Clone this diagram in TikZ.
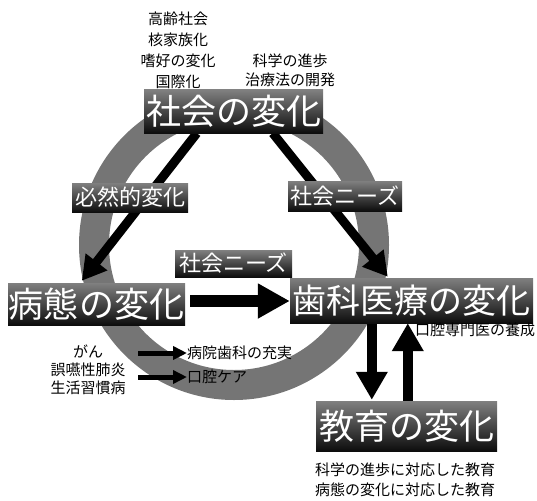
\documentclass[tikz,border=0pt]{standalone}
\usepackage{fontspec}
\setmainfont{Noto Sans CJK JP}
\usetikzlibrary{arrows.meta,calc}
\pgfdeclarelayer{bg}
\pgfsetlayers{bg,main}
\definecolor{ringgray}{gray}{0.46}
\begin{document}
\begin{tikzpicture}[x=1pt,y=-1pt,
  bigbox/.style={rectangle, top color=black!50, bottom color=black!95, text=white, inner sep=0pt, font=\fontsize{35}{35}\selectfont},
  tagbox/.style={rectangle, top color=black!50, bottom color=black!95, text=white, inner sep=0pt, font=\fontsize{22}{22}\selectfont},
  note/.style={inner sep=0pt, text=black, font=\fontsize{15}{20}\selectfont},
  bigarrow/.style={line width=9pt, -{Triangle[width=26pt,length=24pt]}},
  midarrow/.style={line width=12pt, -{Triangle[width=33pt,length=32pt]}},
  vertarrow/.style={line width=10pt, -{Triangle[width=30pt,length=28pt]}},
  smallarrow/.style={line width=5pt, -{Triangle[width=13pt,length=14pt]}}
]
\useasboundingbox (0,0) rectangle (537,500);

% main boxes
\node[bigbox, minimum width=179pt, minimum height=43pt] (soc) at (233.5,111.5) {社会の変化};
\node[bigbox, minimum width=177pt, minimum height=42pt] (pat) at (96.5,304) {病態の変化};
\node[bigbox, minimum width=243pt, minimum height=45pt, font=\fontsize{34}{34}\selectfont] (den) at (411.5,300.5) {歯科医療の変化};
\node[bigbox, minimum width=181pt, minimum height=50pt] (edu) at (406.5,426) {教育の変化};

% arrow labels
\node[tagbox, minimum width=116pt, minimum height=29pt] (l1) at (130,197.5) {必然的変化};
\node[tagbox, minimum width=114pt, minimum height=30pt] (l2) at (345,196) {社会ニーズ};
\node[tagbox, minimum width=117pt, minimum height=27pt] (l3) at (233.5,263.5) {社会ニーズ};

% notes
\node[note, align=center, font=\fontsize{15}{21}\selectfont] (top1) at (178,50) {高齢社会\\核家族化\\嗜好の変化\\国際化};
\node[note, align=center, font=\fontsize{15}{19}\selectfont] (top2) at (290,70.5) {科学の進歩\\治療法の開発};
\node[note, align=center, font=\fontsize{15}{18}\selectfont] (dis) at (88,370) {がん\\誤嚥性肺炎\\生活習慣病};
\node[note, anchor=west] (hosp) at (187,353) {病院歯科の充実};
\node[note, anchor=west] (care) at (187,377) {口腔ケア};
\node[note, anchor=west] (spec) at (415,330) {口腔専門医の養成};
\node[note, align=left, anchor=west] (edn) at (315,480) {科学の進歩に対応した教育\\病態の変化に対応した教育};

\begin{pgfonlayer}{bg}
  \draw[line width=30pt, ringgray] (234,245) circle[radius=140pt];
  \draw[bigarrow] ($(soc.south west)+(53,0)$) -- ($(pat.north west)+(74,-2)$);
  \draw[bigarrow] ($(soc.south west)+(129,0)$) -- ($(den.north west)+(98,-1)$);
  \draw[midarrow] ($(pat.east)+(5,-3)$) -- (den.west |- {$(pat.east)+(0,-3)$});
  \draw[vertarrow] ($(den.south west)+(82,0)$) -- ($(edu.north west)+(56,-1)$);
  \draw[vertarrow] ($(edu.north west)+(92,0)$) -- ($(den.south west)+(118,0)$);
\end{pgfonlayer}
\draw[smallarrow] ($(hosp.west)+(-49,0)$) -- (hosp.west);
\draw[smallarrow] ($(care.west)+(-49,0)$) -- (care.west);
\end{tikzpicture}
\end{document}
